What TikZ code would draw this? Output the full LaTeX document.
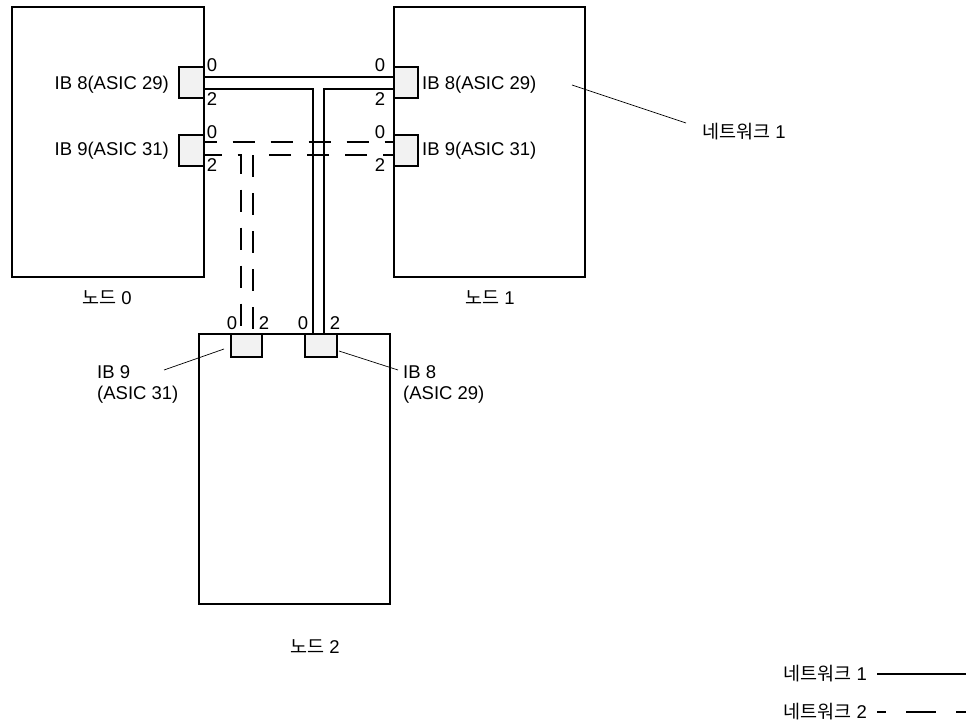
\documentclass[tikz,border=0pt]{standalone}
\usepackage{fontspec}
\setmainfont{Liberation Sans}
\newfontfamily\kr{Noto Sans CJK KR}
\begin{document}
\begin{tikzpicture}[x=1pt,y=-1pt,
  font=\fontsize{18.5}{21}\selectfont,
  box/.style={draw, line width=1.6pt, anchor=north west, inner sep=0pt},
  port/.style={draw, line width=1.6pt, fill=black!5, anchor=north west, inner sep=0pt},
  net1/.style={line width=1.6pt},
  net2/.style={line width=1.6pt, dash pattern=on 22pt off 16pt},
  lead/.style={line width=0.7pt},
  lbl/.style={inner sep=0pt}]
\useasboundingbox (0,0) rectangle (977,723);
% node boxes
\node[box, minimum width=192pt, minimum height=270pt] (n0) at (11,6) {};
\node[box, minimum width=191pt, minimum height=270pt] (n1) at (393,6) {};
\node[box, minimum width=191pt, minimum height=270pt] (n2) at (198,333) {};
% ports
\node[port, minimum width=25pt, minimum height=31pt] (p08) at (178,66) {};
\node[port, minimum width=25pt, minimum height=31pt] (p09) at (178,134) {};
\node[port, minimum width=24pt, minimum height=31pt] (p18) at (393,66) {};
\node[port, minimum width=24pt, minimum height=31pt] (p19) at (393,134) {};
\node[port, minimum width=31pt, minimum height=23pt] (p29) at (230,333) {};
\node[port, minimum width=32pt, minimum height=23pt] (p28) at (304,333) {};
% network 1
\draw[net1] (p08.east |- 0,77) -- (p18.west |- 0,77);
\draw[net1] (p08.east |- 0,89) -- (313,89) -- (313,0 |- p28.north);
\draw[net1] (p18.west |- 0,89) -- (324,89) -- (324,0 |- p28.north);
% network 2
\draw[net2, dash phase=10pt] (p09.east |- 0,142) -- (p19.west |- 0,142);
\draw[net2, dash phase=5pt] (p09.east |- 0,155) -- (241,155) -- (241,0 |- p29.north);
\draw[net2, dash phase=12pt] (p19.west |- 0,155) -- (253,155) -- (253,0 |- p29.north);
% port numbers
\node[lbl] (a0) at (212,65) {0};
\node[lbl] (a2) at (212,99) {2};
\node[lbl] (a3) at (212,132) {0};
\node[lbl] (a4) at (212,165) {2};
\node[lbl] (b0) at (380,65) {0};
\node[lbl] (b2) at (380,99) {2};
\node[lbl] (b3) at (380,132) {0};
\node[lbl] (b4) at (380,165) {2};
\node[lbl] (c0) at (232,323) {0};
\node[lbl] (c2) at (264,323) {2};
\node[lbl] (c3) at (303,323) {0};
\node[lbl] (c4) at (335,323) {2};
% port names
\node[lbl, anchor=east] (t08) at (169,85) {IB 8(ASIC 29)};
\node[lbl, anchor=east] (t09) at (169,151) {IB 9(ASIC 31)};
\node[lbl, anchor=west] (t18) at (422,85) {IB 8(ASIC 29)};
\node[lbl, anchor=west] (t19) at (422,151) {IB 9(ASIC 31)};
\node[lbl, anchor=north west, align=left] (t29) at (97,365) {IB 9\\(ASIC 31)};
\node[lbl, anchor=north west, align=left] (t28) at (403,365) {IB 8\\(ASIC 29)};
\coordinate (l29a) at (164,370);
\coordinate (l29b) at (224,349);
\coordinate (l28a) at (339,351);
\coordinate (l28b) at (398,370);
\draw[lead] (l29a) -- (l29b);
\draw[lead] (l28a) -- (l28b);
% node names
\node[lbl] (nm0) at (107,298) {{\kr 노드} 0};
\node[lbl] (nm1) at (490,298) {{\kr 노드} 1};
\node[lbl] (nm2) at (315,647) {{\kr 노드} 2};
% network 1 callout
\node[lbl, anchor=west] (net) at (702,132) {{\kr 네트워크} 1};
\coordinate (la) at (572,85);
\coordinate (lb) at (686,123);
\draw[lead] (la) -- (lb);
% legend
\node[lbl, anchor=east] (lg1) at (867,674) {{\kr 네트워크} 1};
\node[lbl, anchor=east] (lg2) at (867,712) {{\kr 네트워크} 2};
\coordinate (lg1a) at (877,674);
\coordinate (lg1b) at (966,674);
\coordinate (lg2a) at (877,712);
\coordinate (lg2b) at (966,712);
\draw[net1] (lg1a) -- (lg1b);
\draw[line width=1.6pt, dash pattern=on 30pt off 20pt, dash phase=21pt] (lg2a) -- (lg2b);
\end{tikzpicture}
\end{document}
